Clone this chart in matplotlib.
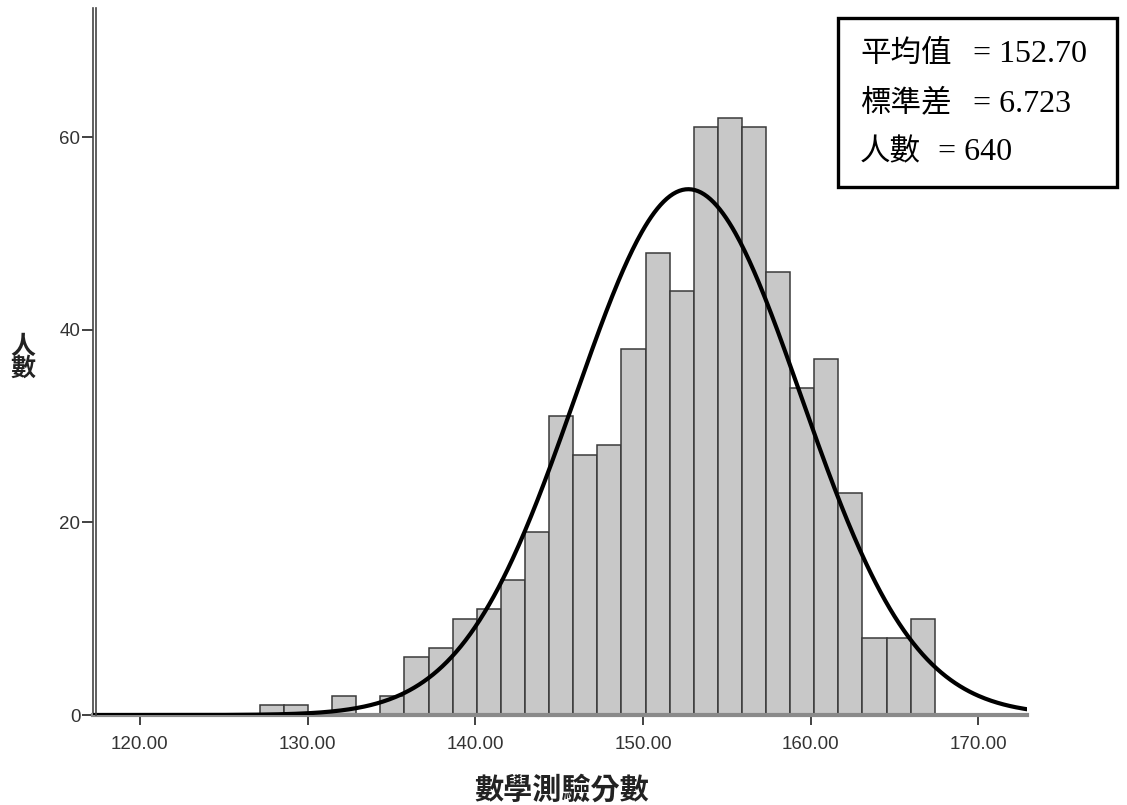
import matplotlib.pyplot as plt
import numpy as np
from matplotlib.lines import Line2D
from matplotlib.patches import Rectangle
from matplotlib import transforms

# histogram of math test scores (SPSS style)
bin_start = 127.15
bin_end = 167.40
counts = [1, 1, 0, 2, 0, 2, 6, 7, 10, 11, 14, 19, 31, 27, 28,
          38, 48, 44, 61, 62, 61, 46, 34, 37, 23, 8, 8, 10]
mean = 152.70
sd = 6.723
n = 640
x_ticks = [120, 130, 140, 150, 160, 170]
y_ticks = [0, 20, 40, 60]
stat_names = ["平均值", "標準差", "人數"]
stat_values = [f"= {mean:.2f}", f"= {sd:.3f}", f"= {n}"]

edges = np.linspace(bin_start, bin_end, len(counts) + 1)
width = edges[1] - edges[0]

W, H = 1127, 805
fig = plt.figure(figsize=(W / 100, H / 100), dpi=100)
ax = fig.add_axes([0.0825, 0.1118, 0.9113 - 0.0825, 0.990 - 0.1118])

ax.bar(edges[:-1], counts, width=width, align="edge",
       color="#c8c8c8", edgecolor="#3a3a3a", linewidth=1.1, zorder=2)

xs = np.linspace(117.2, 172.9, 600)
ys = n * width / (sd * np.sqrt(2 * np.pi)) * np.exp(-0.5 * ((xs - mean) / sd) ** 2)
ax.plot(xs, ys, color="black", linewidth=3, zorder=3)

ax.set_xlim(117.2, 172.9)
ax.set_ylim(0, 73.4)
ax.set_xticks(x_ticks)
ax.set_xticklabels([f"{v:.2f}" for v in x_ticks])
ax.set_yticks(y_ticks)

for s in ("top", "right"):
    ax.spines[s].set_visible(False)
ax.spines["bottom"].set_color("#8a8a8a")
ax.spines["bottom"].set_linewidth(3)
ax.spines["left"].set_color("#444444")
ax.spines["left"].set_linewidth(1.2)
# second line of the doubled left axis
off = transforms.offset_copy(ax.transAxes, fig=fig, x=3, y=0, units="dots")
ax.add_line(Line2D([0, 0], [0, 1], transform=off, color="#444444",
                   linewidth=1.2, clip_on=False, zorder=4))

ax.tick_params(axis="x", direction="out", length=7, width=1.3, color="#333333",
               labelsize=13.5, labelcolor="#333333", pad=8)
ax.tick_params(axis="y", direction="out", length=8, width=1.3, color="#333333",
               labelsize=13.5, labelcolor="#333333", pad=1)
for lbl in ax.get_xticklabels() + ax.get_yticklabels():
    lbl.set_family("Liberation Sans")

cjk = ["Noto Sans CJK TC", "DejaVu Sans"]
fig.text(562 / W, 1 - 790 / H, "數學測驗分數", family=cjk, fontsize=21,
         fontweight="bold", ha="center", va="center", color="#222222")
fig.text(23 / W, 1 - 358 / H, "人\n數", family=cjk, fontsize=18, fontweight="bold",
         ha="center", va="center", linespacing=0.9, color="#222222")

# statistics box (pixel positions converted to figure fraction)
fig.add_artist(Rectangle((838 / W, 1 - 187 / H), 279 / W, 169 / H,
                         transform=fig.transFigure, facecolor="white",
                         edgecolor="black", linewidth=2.4, zorder=5))
row_y = [53, 103, 152]
val_x = [973, 973, 938]
for name, val, y, vx in zip(stat_names, stat_values, row_y, val_x):
    fig.text(860 / W, 1 - y / H, name, family=cjk, fontsize=22,
             fontweight="light", ha="left", va="center", zorder=6)
    fig.text(vx / W, 1 - (y + 1) / H, val, family="Liberation Serif",
             fontsize=23, ha="left", va="center", zorder=6)

fig.savefig("out.png", dpi=100)
